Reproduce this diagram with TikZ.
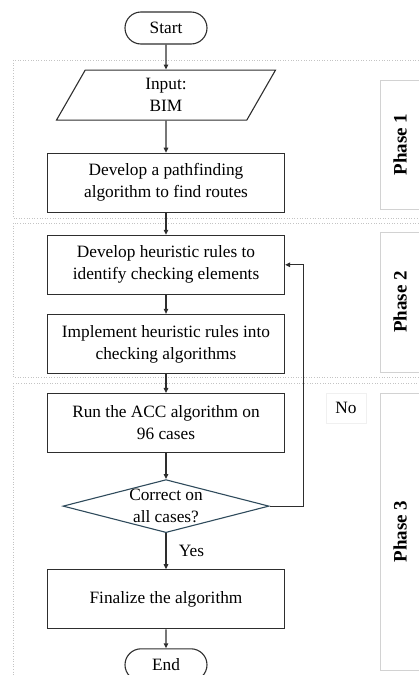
\documentclass[tikz,border=0pt]{standalone}
\usepackage{fontspec}
\setmainfont{Liberation Serif}
\usepackage{tikz}
\usetikzlibrary{calc, positioning, arrows.meta, shapes.geometric, shapes.misc}

\definecolor{linegray}{HTML}{2E2E2E}
\definecolor{decisionblue}{HTML}{2F4B5C}
\definecolor{areagray}{HTML}{C4C4C4}
\definecolor{labelgray}{HTML}{D2D2D2}

\tikzset{
  every node/.style={font=\fontsize{17.3}{22}\selectfont},
  terminal/.style={rounded rectangle, draw=linegray, line width=1.1pt, minimum width=82pt, minimum height=32pt, inner sep=0pt},
  io/.style={trapezium, trapezium left angle=49.3, trapezium right angle=130.7, trapezium stretches body, draw=linegray, line width=1.1pt, minimum width=219pt, minimum height=50pt, inner sep=0pt, align=center},
  process/.style={rectangle, draw=linegray, line width=1.1pt, minimum width=237pt, minimum height=59pt, inner sep=0pt, align=center},
  decision/.style={diamond, draw=decisionblue, line width=1.1pt, minimum width=206pt, minimum height=53pt, inner sep=0pt},
  flow/.style={draw=linegray, line width=1.1pt, -{Triangle[length=5pt,width=4.5pt]}},
  phasearea/.style={draw=areagray, dotted, line width=0.6pt},
  phaselabel/.style={rectangle, draw=labelgray, fill=white, line width=0.8pt, rotate=90, minimum height=40pt, inner sep=0pt, font=\fontsize{19}{22}\selectfont\bfseries}
}

\begin{document}
\begin{tikzpicture}[x=1pt, y=-1pt]
    \useasboundingbox (0,0) rectangle (418,675);

    % Phase areas
    \draw[phasearea] (13,60) rectangle (440,218);
    \draw[phasearea] (13,223) rectangle (440,377);
    \draw[phasearea] (13,383) rectangle (440,700);

    \node[phaselabel, minimum width=129pt] (ph1) at (400,144.5) {Phase 1};
    \node[phaselabel, minimum width=140pt] (ph2) at (400,302) {Phase 2};
    \node[phaselabel, minimum width=277pt] (ph3) at (400,531.5) {Phase 3};

    % Nodes
    \node[terminal] (start) at (166,28) {Start};
    \node[io, below=25pt of start] (bim) {Input:\\BIM};
    \node[process, below=32pt of bim] (path) {Develop a pathfinding\\algorithm to find routes};
    \node[process, below=22pt of path] (heur) {Develop heuristic rules to\\identify checking elements};
    \node[process, below=19pt of heur] (impl) {Implement heuristic rules into\\checking algorithms};
    \node[process, below=19pt of impl] (run) {Run the ACC algorithm on\\96 cases};
    \node[decision, below=26pt of run, label={[align=center]center:Correct on\\all cases?}] (chk) {};
    \node[process, below=36pt of chk] (fin) {Finalize the algorithm};
    \node[terminal, below=19pt of fin] (end) {End};
    \node[draw=gray!12, fill=white, minimum width=40pt, minimum height=30pt, inner sep=0pt] (no) at (346,408) {No};

    % Paths
    \draw[flow] (start) -- (bim);
    \draw[flow] (bim) -- (path);
    \draw[flow] (path) -- (heur);
    \draw[flow] (heur) -- (impl);
    \draw[flow] (impl) -- (run);
    \draw[flow] (run) -- (chk);
    \draw[flow] (chk) -- node[right=9pt] {Yes} (fin);
    \draw[flow] (fin) -- (end);
    \draw[flow] (chk.east) -- ++(34,0) |- (heur.east);
\end{tikzpicture}
\end{document}
